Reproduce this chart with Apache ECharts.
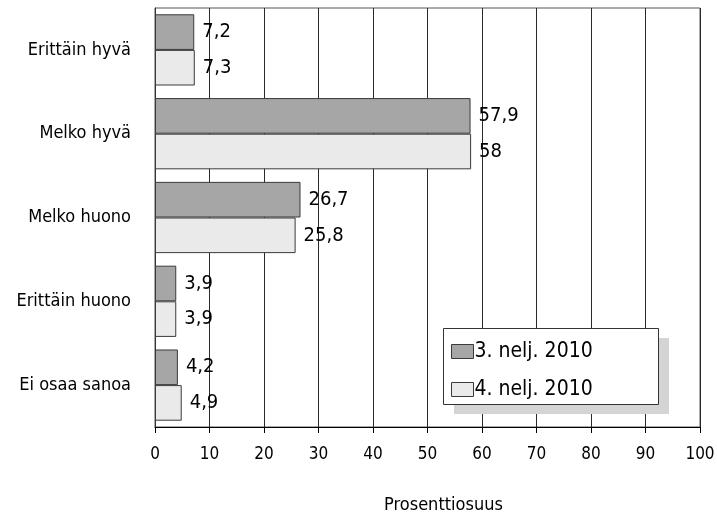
<!DOCTYPE html>
<html><head><meta charset="utf-8">
<script src="https://cdn.jsdelivr.net/npm/echarts@6/dist/echarts.min.js"></script>
<style>html,body{margin:0;padding:0;background:#fff}#c{width:717px;height:516px}</style>
</head><body><div id="c"></div>
<script>
const categories = ['Erittäin hyvä', 'Melko hyvä', 'Melko huono', 'Erittäin huono', 'Ei osaa sanoa'];
const seriesNames = ['3. nelj. 2010', '4. nelj. 2010'];
const q3 = [7.2, 57.9, 26.7, 3.9, 4.2];
const q4 = [7.3, 58, 25.8, 3.9, 4.9];
const xTicks = { min: 0, max: 100, interval: 10 };
const axisTitle = 'Prosenttiosuus';

const FONT = '"Liberation Sans Narrow", "DejaVu Sans Condensed", "Open Sans", sans-serif';
const chart = echarts.init(document.getElementById('c'));
const fmt = p => String(p.value).replace('.', ',');
const mk = (name, data, color) => ({
  name, type: 'bar', data,
  barGap: '0%', barCategoryGap: '15%',
  itemStyle: { color, borderColor: '#3a3a3a', borderWidth: 1 },
  label: { show: true, position: 'right', distance: 8, formatter: fmt,
    fontFamily: FONT, fontSize: 20, color: '#000' }
});
chart.setOption({
  animation: false,
  textStyle: { fontFamily: FONT },
  grid: { left: 155, right: 17, top: 8, bottom: 89, show: true, borderColor: '#555', borderWidth: 1,
    containLabel: false, outerBoundsMode: 'none' },
  xAxis: {
    type: 'value', min: xTicks.min, max: xTicks.max, interval: xTicks.interval,
    axisLine: { show: true, lineStyle: { color: '#000', width: 1 } },
    axisTick: { show: true, length: 6, lineStyle: { color: '#000' } },
    splitLine: { show: true, lineStyle: { color: '#2a2a2a', width: 1 } },
    axisLabel: { fontFamily: FONT, fontSize: 17, color: '#000', margin: 19 },
    name: axisTitle, nameLocation: 'middle', nameGap: 69,
    nameTextStyle: { fontFamily: FONT, fontSize: 18, color: '#000', padding: [0, 0, 0, 32] }
  },
  yAxis: {
    type: 'category', data: categories, inverse: true,
    axisLine: { show: true, lineStyle: { color: '#333' } },
    axisTick: { show: false },
    axisLabel: { fontFamily: FONT, fontSize: 18, color: '#000', margin: 24 }
  },
  legend: {
    orient: 'vertical', left: 443, top: 328,
    data: seriesNames, icon: 'rect',
    padding: [13, 8, 10, 8], itemGap: 17, itemWidth: 22, itemHeight: 14,
    textStyle: { fontFamily: FONT, fontSize: 21, color: '#000', padding: [0, 0, 0, -4] },
    itemStyle: { borderColor: '#3a3a3a', borderWidth: 1 },
    z: 10
  },
  graphic: [{
    type: 'rect', left: 454, top: 338, z: 5,
    shape: { width: 215, height: 76 },
    style: { fill: '#d4d4d4' }
  }, {
    type: 'rect', left: 443, top: 328, z: 6,
    shape: { width: 215, height: 76 },
    style: { fill: '#fff', stroke: '#333', lineWidth: 1 }
  }],
  series: [mk(seriesNames[0], q3, '#a6a6a6'), mk(seriesNames[1], q4, '#eaeaea')]
});
</script></body></html>
